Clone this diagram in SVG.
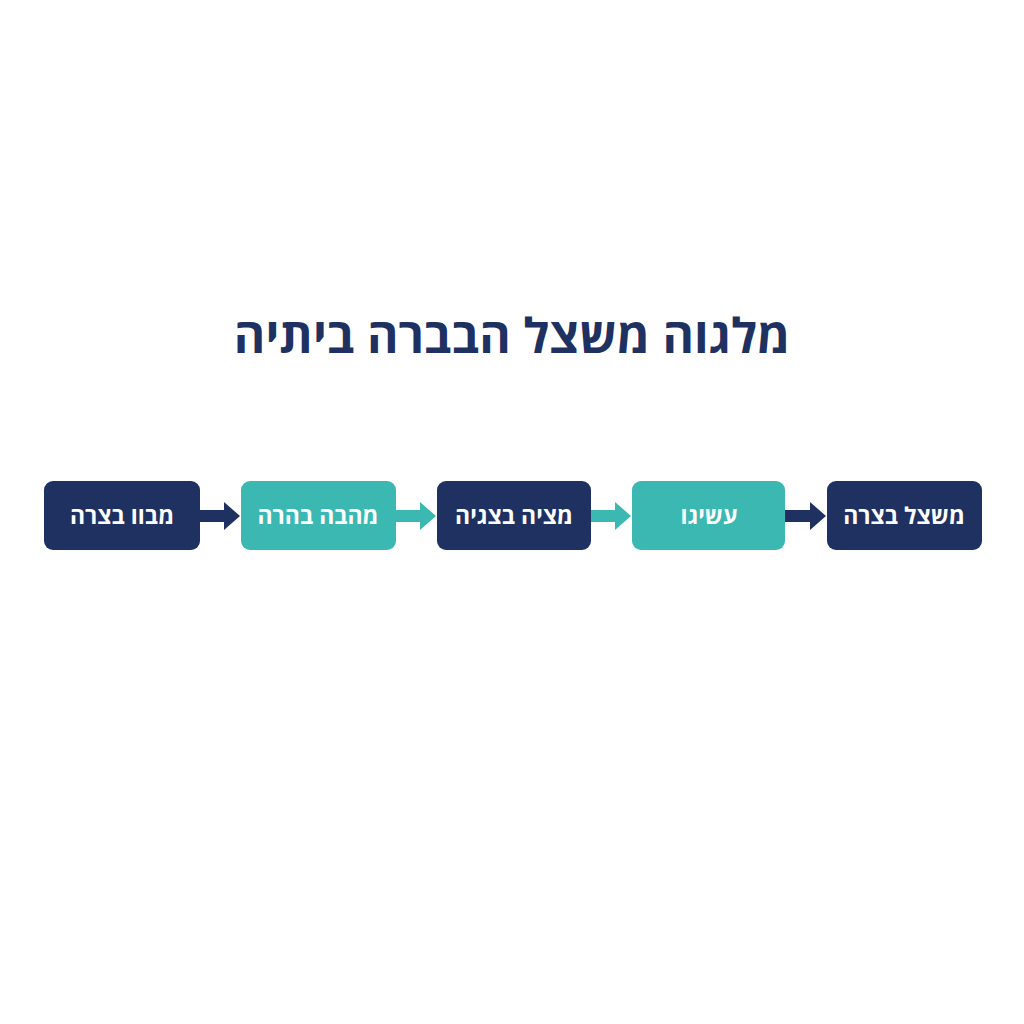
<svg xmlns="http://www.w3.org/2000/svg" width="1024" height="1024" viewBox="0 0 1024 1024">
<style>
.navy{fill:#1e3160}
.teal{fill:#3bb8b2}
.lbl{font-family:"Open Sans","DejaVu Sans",sans-serif;font-weight:700;font-size:23px;fill:#ffffff;text-anchor:middle}
.title{font-family:"Open Sans","DejaVu Sans",sans-serif;font-weight:700;font-size:48px;fill:#1e3160;text-anchor:middle}
</style>
<rect width="1024" height="1024" fill="#ffffff"/>
<text class="title" x="512" y="353" direction="rtl">מלגוה משצל הבברה ביתיה</text>
<g id="connectors">
<path class="navy" d="M200,510 H224 V502 L240,516 L224,530 V522 H200 Z"/>
<path class="teal" d="M396,510 H420 V502 L436,516 L420,530 V522 H396 Z"/>
<path class="teal" d="M591,510 H615 V502 L631,516 L615,530 V522 H591 Z"/>
<path class="navy" d="M785,510 H810 V502 L826,516 L810,530 V522 H785 Z"/>
</g>
<g id="n1"><rect class="navy" x="44" y="481" width="156" height="69" rx="9"/><text class="lbl" x="122" y="524" direction="rtl">מבוו בצרה</text></g>
<g id="n2"><rect class="teal" x="241" y="481" width="155" height="69" rx="9"/><text class="lbl" x="318" y="524" direction="rtl">מהבה בהרה</text></g>
<g id="n3"><rect class="navy" x="437" y="481" width="154" height="69" rx="9"/><text class="lbl" x="514" y="524" direction="rtl">מציה בצגיה</text></g>
<g id="n4"><rect class="teal" x="632" y="481" width="153" height="69" rx="9"/><text class="lbl" x="709" y="524" direction="rtl">עשיגו</text></g>
<g id="n5"><rect class="navy" x="827" y="481" width="155" height="69" rx="9"/><text class="lbl" x="904" y="524" direction="rtl">משצל בצרה</text></g>
</svg>
